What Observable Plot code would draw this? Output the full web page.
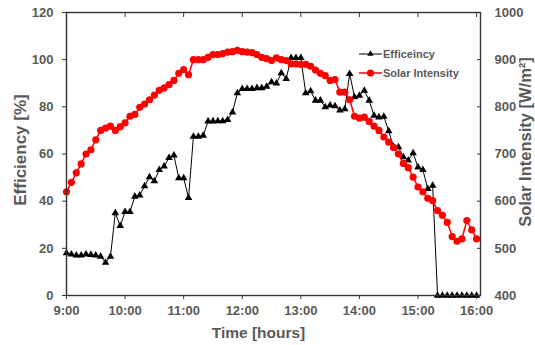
<!DOCTYPE html>
<html><head><meta charset="utf-8">
<script src="https://cdn.jsdelivr.net/npm/d3@7"></script>
<script src="https://cdn.jsdelivr.net/npm/@observablehq/plot@0.6"></script>
<style>
body{margin:0;background:#fff;}
#wrap{position:relative;width:535px;height:345px;font-family:"Liberation Sans",Arial,sans-serif;overflow:hidden;}
#legend{position:absolute;left:355px;top:44px;}
</style></head><body><div id="wrap"></div>
<script>
const times = ["9:00","9:05","9:10","9:15","9:20","9:25","9:30","9:35","9:40","9:45","9:50","9:55",
"10:00","10:05","10:10","10:15","10:20","10:25","10:30","10:35","10:40","10:45","10:50","10:55",
"11:00","11:05","11:10","11:15","11:20","11:25","11:30","11:35","11:40","11:45","11:50","11:55",
"12:00","12:05","12:10","12:15","12:20","12:25","12:30","12:35","12:40","12:45","12:50","12:55",
"13:00","13:05","13:10","13:15","13:20","13:25","13:30","13:35","13:40","13:45","13:50","13:55",
"14:00","14:05","14:10","14:15","14:20","14:25","14:30","14:35","14:40","14:45","14:50","14:55",
"15:00","15:05","15:10","15:15","15:20","15:25","15:30","15:35","15:40","15:45","15:50","15:55","16:00"];
const efficiency = [18,17.5,17,17,17.5,17.3,17,16.5,14,16.5,35,29.5,35.5,35.5,
42,42.5,46.4,50.2,48.5,53.3,54.8,58.4,59.4,49.8,49.8,41.4,67.4,67.4,67.8,73.9,73.9,
74,74,74.5,77.7,85.8,87.6,87.6,87.6,88,88,88.6,90.5,90,94.3,91.9,100.8,100.8,100.8,85.8,86.7,82.7,82.7,79.9,80.6,80.3,78.5,79,94,84.1,
84.8,86.9,82.7,76.3,75.6,75.9,69.7,62.9,62.9,58.7,57.3,60.4,54.4,53.3,45.2,46.6,
0,0,0,0,0,0,0,0,0];
const solarIntensity = [620,640,660,679,700,709,730,750,755,759,750,758,766,780,
784,799,806,815,825,835,840,847,856,871,879,868,900,900,900,905,911,
911,913,916,917,920,917,916,915,911,905,902,898,904,900,898,891,891,890,890,886,878,871,866,856,858,831,831,815,780,
776,778,769,759,750,736,725,714,700,680,671,651,630,620,606,601,
580,570,555,525,515,520,559,539,520];
const hourTicks = ["9:00","10:00","11:00","12:00","13:00","14:00","15:00","16:00"];
const effTicks = [0,20,40,60,80,100,120];
const siTicks = [400,500,600,700,800,900,1000];
const seriesNames = ["Efficeincy","Solar Intensity"];

const parse = s => { const [h,m] = s.split(":").map(Number); return new Date(Date.UTC(2000,0,1,h,m)); };
const siToY = v => (v - 400) / 5;
const rows = times.map((t,i) => ({time: parse(t), eff: efficiency[i], si: solarIntensity[i]}));
const hourDates = hourTicks.map(parse);
const fmt = d3.utcFormat("%-H:%M");
const grey = "#595959";
const ff = '"Liberation Sans", Arial, sans-serif';

const plot = Plot.plot({
  width: 535, height: 345,
  marginLeft: 66, marginRight: 55, marginTop: 12, marginBottom: 50,
  style: {fontFamily: ff, background: "#fff", overflow: "visible"},
  x: {type: "utc", domain: [parse("9:00"), parse("16:04")]},
  y: {domain: [0, 120]},
  marks: [
    Plot.line(rows, {x: "time", y: "eff", stroke: "#000", strokeWidth: 1}),
    Plot.dot(rows, {x: "time", y: "eff", symbol: "triangle", r: 2.8, fill: "#000", stroke: "none"}),
    Plot.line(rows, {x: "time", y: d => siToY(d.si), stroke: "#ff0000", strokeWidth: 1.5}),
    Plot.dot(rows, {x: "time", y: d => siToY(d.si), r: 3.6, fill: "#ff0000", stroke: "none"}),
    Plot.frame({stroke: "#333", strokeWidth: 1.4}),
    Plot.axisX(hourDates, {anchor: "bottom", tickSize: 4, tickPadding: 6, tickFormat: fmt, fontSize: 13, fontWeight: "bold", fill: grey, stroke: "#333", label: null}),
    Plot.axisX(hourDates, {anchor: "top", tickSize: -4, fill: "none", stroke: "#333", label: null}),
    Plot.axisY(effTicks, {anchor: "left", tickSize: 4, tickPadding: 9, fontSize: 13, fontWeight: "bold", fill: grey, stroke: "#333", label: null}),
    Plot.axisY(siTicks.map(siToY), {anchor: "right", tickSize: -4, tickPadding: 18, tickFormat: d => String(Math.round(d * 5 + 400)), fontSize: 13, fontWeight: "bold", fill: grey, stroke: "#333", label: null}),
    Plot.text(["Time [hours]"], {frameAnchor: "bottom", textAnchor: "middle", lineAnchor: "middle", dy: 38, dx: -15, fontSize: 15.5, fontWeight: "bold", fill: grey}),
    Plot.text(["Efficiency [%]"], {frameAnchor: "left", textAnchor: "middle", lineAnchor: "middle", rotate: -90, dx: -46, dy: -4, fontSize: 17, fontWeight: "bold", fill: grey}),
    Plot.text(["Solar Intensity [W/m²]"], {frameAnchor: "right", textAnchor: "middle", lineAnchor: "middle", rotate: -90, dx: 45, dy: -12, fontSize: 16.5, fontWeight: "bold", fill: grey})
  ]
});
const wrap = document.getElementById("wrap");
wrap.appendChild(plot);

// legend
const lg = d3.select(wrap).append("svg").attr("id", "legend").attr("width", 130).attr("height", 40)
  .style("font-family", ff);
const items = [
  {name: seriesNames[0], color: "#000", sym: d3.symbolTriangle, size: 18, sw: 1},
  {name: seriesNames[1], color: "#ff0000", sym: d3.symbolCircle, size: 40, sw: 1.5}
];
items.forEach((it, i) => {
  const y = 10 + i * 19;
  lg.append("line").attr("x1", 4).attr("x2", 27).attr("y1", y).attr("y2", y).attr("stroke", it.color).attr("stroke-width", it.sw);
  lg.append("path").attr("d", d3.symbol(it.sym, it.size)()).attr("transform", `translate(15.5,${y})`).attr("fill", it.color);
  lg.append("text").attr("x", 28).attr("y", y).attr("dy", "0.35em").attr("font-size", 11).attr("font-weight", "bold").attr("fill", grey).text(it.name);
});
</script>
</body></html>
